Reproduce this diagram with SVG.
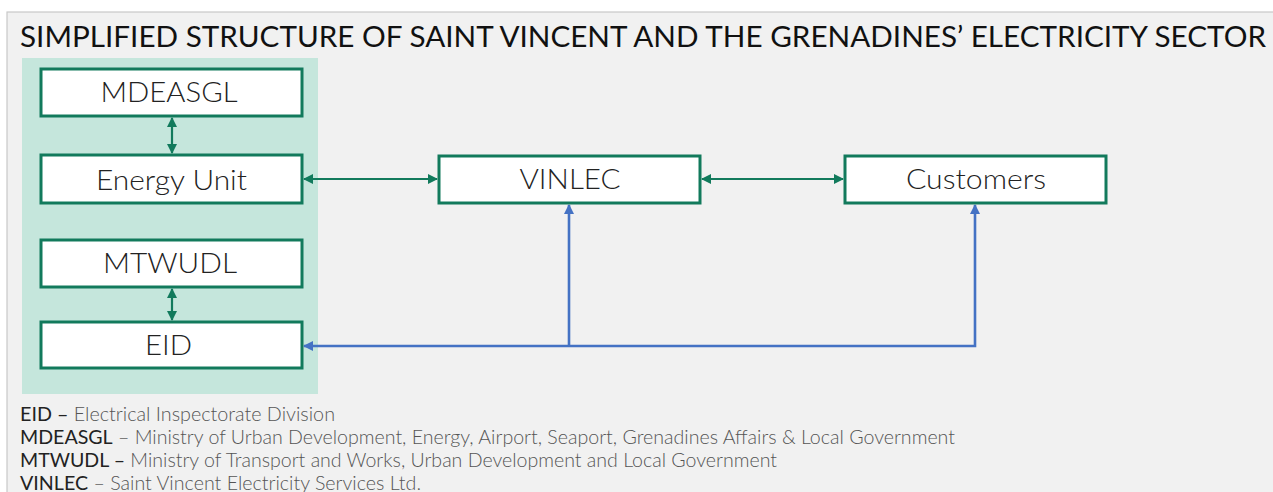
<svg xmlns="http://www.w3.org/2000/svg" width="1273" height="492" viewBox="0 0 1273 492">
<defs>
<style>
.box{fill:#ffffff;stroke:#127a5c;stroke-width:3}
.lbl{font-family:Lato,"Liberation Sans",sans-serif;font-weight:300;font-size:28px;fill:#222222;text-anchor:middle}
.g{stroke:#127a5c;stroke-width:2.2;fill:none}
.b{stroke:#4472c4;stroke-width:2.6;fill:none}
.leg{font-family:Lato,"Liberation Sans",sans-serif;font-size:19px;fill:#555555;font-weight:300}
.legb{font-weight:400;fill:#222222}
</style>
<marker id="ag" viewBox="0 0 10 10" refX="9" refY="5" markerWidth="10" markerHeight="10" markerUnits="userSpaceOnUse" orient="auto-start-reverse"><path d="M0,0 L10,5 L0,10 z" fill="#127a5c"/></marker>
<marker id="ab" viewBox="0 0 10 10" refX="9" refY="5" markerWidth="10" markerHeight="10" markerUnits="userSpaceOnUse" orient="auto-start-reverse"><path d="M0,0 L10,5 L0,10 z" fill="#4472c4"/></marker>
</defs>
<rect x="0" y="0" width="1273" height="492" fill="#ffffff"/>
<rect x="7" y="12" width="1270" height="485" fill="#f1f1f1" stroke="#c9c9c9" stroke-width="1.2"/>
<text x="20" y="47" font-family="Lato,'Liberation Sans',sans-serif" font-size="28" fill="#111111" textLength="1246" lengthAdjust="spacingAndGlyphs">SIMPLIFIED STRUCTURE OF SAINT VINCENT AND THE GRENADINES’ ELECTRICITY SECTOR</text>
<rect x="22" y="58" width="296" height="336" fill="#c5e6dc"/>
<g id="connectors">
<line class="g" x1="172" y1="118" x2="172" y2="153" marker-start="url(#ag)" marker-end="url(#ag)"/>
<line class="g" x1="172" y1="289" x2="172" y2="320" marker-start="url(#ag)" marker-end="url(#ag)"/>
<line class="g" x1="304" y1="179" x2="437" y2="179" marker-start="url(#ag)" marker-end="url(#ag)"/>
<line class="g" x1="702" y1="179" x2="843" y2="179" marker-start="url(#ag)" marker-end="url(#ag)"/>
<polyline class="b" points="975,205 975,346 304,346" marker-start="url(#ab)" marker-end="url(#ab)"/>
<line class="b" x1="569" y1="346" x2="569" y2="205" marker-end="url(#ab)"/>
</g>
<g id="MDEASGL"><rect class="box" x="41" y="69" width="261" height="47"/><text class="lbl" x="169" y="102" textLength="137" lengthAdjust="spacingAndGlyphs">MDEASGL</text></g>
<g id="EnergyUnit"><rect class="box" x="41" y="155" width="261" height="48"/><text class="lbl" x="171.5" y="190" textLength="151" lengthAdjust="spacingAndGlyphs">Energy Unit</text></g>
<g id="MTWUDL"><rect class="box" x="41" y="240" width="261" height="47"/><text class="lbl" x="170" y="273" textLength="134" lengthAdjust="spacingAndGlyphs">MTWUDL</text></g>
<g id="EID"><rect class="box" x="41" y="322" width="261" height="46"/><text class="lbl" x="168.5" y="355" textLength="47" lengthAdjust="spacingAndGlyphs">EID</text></g>
<g id="VINLEC"><rect class="box" x="439" y="156" width="261" height="47"/><text class="lbl" x="570" y="189" textLength="101" lengthAdjust="spacingAndGlyphs">VINLEC</text></g>
<g id="Customers"><rect class="box" x="845" y="156" width="261" height="47"/><text class="lbl" x="976" y="189" textLength="140" lengthAdjust="spacingAndGlyphs">Customers</text></g>
<g id="legend">
<text class="leg" x="20" y="421" textLength="315" lengthAdjust="spacingAndGlyphs"><tspan class="legb">EID –</tspan> Electrical Inspectorate Division</text>
<text class="leg" x="20" y="444" textLength="935" lengthAdjust="spacingAndGlyphs"><tspan class="legb">MDEASGL</tspan> – Ministry of Urban Development, Energy, Airport, Seaport, Grenadines Affairs &amp; Local Government</text>
<text class="leg" x="20" y="467" textLength="757" lengthAdjust="spacingAndGlyphs"><tspan class="legb">MTWUDL –</tspan> Ministry of Transport and Works, Urban Development and Local Government</text>
<text class="leg" x="20" y="490" textLength="401" lengthAdjust="spacingAndGlyphs"><tspan class="legb">VINLEC</tspan> – Saint Vincent Electricity Services Ltd.</text>
</g>
</svg>
